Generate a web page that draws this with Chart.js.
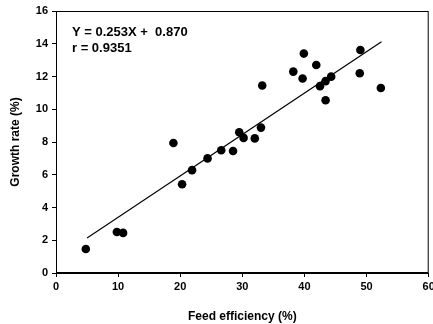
<!DOCTYPE html>
<html><head><meta charset="utf-8">
<script src="https://cdn.jsdelivr.net/npm/chart.js@4/dist/chart.umd.min.js"></script>
<style>html,body{margin:0;padding:0;background:#fff}#wrap{width:433px;height:324px}</style>
</head><body><div id="wrap"><canvas id="c" width="433" height="324"></canvas></div>
<script>
const feedEfficiency = [4.8, 9.8, 10.8, 18.9, 20.3, 21.9, 24.4, 26.6, 28.5, 29.5, 30.2, 32.0, 33.0, 33.2, 38.2, 39.9, 39.7, 41.9, 42.5, 43.4, 44.3, 43.4, 49.0, 48.9, 52.3];
const growthRate =     [1.47, 2.5, 2.45, 7.94, 5.42, 6.28, 7.0, 7.5, 7.45, 8.6, 8.25, 8.22, 8.88, 11.45, 12.3, 13.4, 11.88, 12.7, 11.41, 11.72, 11.99, 10.55, 13.62, 12.2, 11.3];
const slope = 0.253, intercept = 0.870;
const lineX = [5, 52.4];
const xTicks = [0, 10, 20, 30, 40, 50, 60];
const yTicks = [0, 2, 4, 6, 8, 10, 12, 14, 16];
const eqText = ["Y = 0.253X +  0.870", "r = 0.9351"];

const pts = feedEfficiency.map((x, i) => ({x, y: growthRate[i]}));
const linePts = lineX.map(x => ({x, y: slope * x + intercept}));
const FONT = "'Liberation Sans', Arial, sans-serif";

const frame = {
  id: 'frame',
  afterDraw(chart) {
    const {ctx, chartArea: a} = chart;
    ctx.save();
    ctx.strokeStyle = '#000';
    ctx.lineWidth = 1;
    ctx.strokeRect(a.left + 0.5, a.top + 0.5, a.right - a.left - 1, a.bottom - a.top - 1);
    ctx.fillStyle = '#000';
    ctx.font = 'bold 13px ' + FONT;
    ctx.textBaseline = 'middle';
    ctx.fillText(eqText[0], 72, 32);
    ctx.fillText(eqText[1], 72, 48);
    ctx.restore();
  }
};

new Chart(document.getElementById('c'), {
  type: 'scatter',
  data: {
    datasets: [
      {data: pts, backgroundColor: '#000', borderColor: '#000', borderWidth: 0, pointRadius: 4.3, pointHoverRadius: 4.3},
      {type: 'line', data: linePts, borderColor: '#000', borderWidth: 1.2, pointRadius: 0, fill: false, showLine: true}
    ]
  },
  options: {
    responsive: false,
    animation: false,
    events: [],
    layout: {padding: {top: 11, right: -1, left: 0, bottom: 0}},
    plugins: {legend: {display: false}, tooltip: {enabled: false}},
    scales: {
      x: {
        type: 'linear', min: 0, max: 60,
        afterBuildTicks: s => { s.ticks = xTicks.map(v => ({value: v})); },
        afterFit: s => { s.height = 51; s.paddingRight = 0; },
        grid: {drawOnChartArea: false, tickLength: 4, color: '#000'},
        border: {color: '#000', width: 1},
        ticks: {color: '#000', font: {family: FONT, weight: 'bold', size: 11}, padding: 3, maxRotation: 0},
        title: {display: true, text: 'Feed efficiency (%)', color: '#000', font: {family: FONT, weight: 'bold', size: 12}, padding: {top: 6, bottom: 0}}
      },
      y: {
        type: 'linear', min: 0, max: 16,
        afterBuildTicks: s => { s.ticks = yTicks.map(v => ({value: v})); },
        afterFit: s => { s.width = 56; },
        grid: {drawOnChartArea: false, tickLength: 4, color: '#000'},
        border: {color: '#000', width: 1},
        ticks: {color: '#000', font: {family: FONT, weight: 'bold', size: 11}, padding: 4},
        title: {display: true, text: 'Growth rate (%)', color: '#000', font: {family: FONT, weight: 'bold', size: 12}, padding: {top: 8, bottom: 6}}
      }
    }
  },
  plugins: [frame]
});
</script></body></html>
